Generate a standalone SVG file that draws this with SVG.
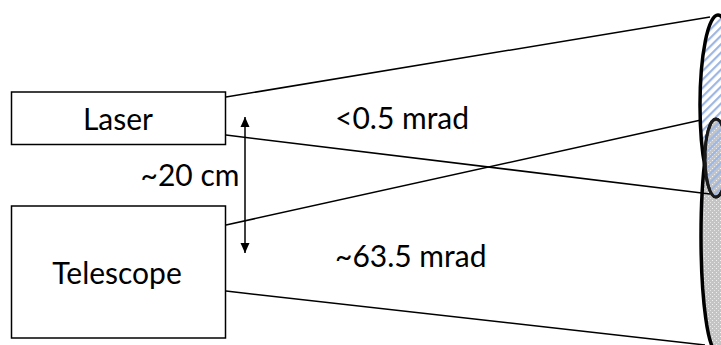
<svg xmlns="http://www.w3.org/2000/svg" width="721" height="345" viewBox="0 0 721 345">
  <style>
    .box { fill: #ffffff; stroke: #000000; stroke-width: 1.5; }
    .lbl { font-family: Lato, "Open Sans", "Liberation Sans", sans-serif; font-size: 30px; fill: #000000; }
    .ray { stroke: #000000; stroke-width: 1.5; fill: none; }
    .spot { stroke: #000000; stroke-width: 3.5; }
    .inner { stroke: #1a1a1a; stroke-width: 3; }
  </style>
  <defs>
    <pattern id="hatch" patternUnits="userSpaceOnUse" width="6" height="6" patternTransform="rotate(45)">
      <rect width="6" height="6" fill="#ffffff"/>
      <rect x="0" y="0" width="2.2" height="6" fill="#9db6e2"/>
    </pattern>
    <pattern id="hatchOnly" patternUnits="userSpaceOnUse" width="6" height="6" patternTransform="rotate(45)">
      <rect x="0" y="0" width="2.2" height="6" fill="#9db6e2"/>
    </pattern>
    <pattern id="dots" patternUnits="userSpaceOnUse" width="4" height="4">
      <rect width="4" height="4" fill="#c4c4c4"/>
      <rect x="0" y="0" width="1" height="1" fill="#f2f2f2"/>
      <rect x="2" y="2" width="1" height="1" fill="#e6e6e6"/>
    </pattern>
    <marker id="arr" viewBox="0 0 10 10" refX="10" refY="5" markerWidth="10" markerHeight="10" markerUnits="userSpaceOnUse" orient="auto-start-reverse">
      <path d="M0,0.5 L10,5 L0,9.5 Z" fill="#000000"/>
    </marker>
  </defs>

  <g id="spot">
    <ellipse id="telescope-fov" class="spot" cx="717" cy="236" rx="16" ry="116" fill="url(#dots)"/>
    <ellipse id="laser-beam" class="spot" cx="718" cy="105" rx="18" ry="90" fill="url(#hatch)"/>
    <ellipse id="overlap" class="inner" cx="716" cy="158" rx="11" ry="39" fill="url(#dots)"/>
    <ellipse class="inner" cx="716" cy="158" rx="11" ry="39" fill="url(#hatchOnly)"/>
  </g>

  <g id="connectors">
    <line class="ray" x1="226" y1="97" x2="710" y2="17"/>
    <line class="ray" x1="226" y1="135" x2="710" y2="194"/>
    <line class="ray" x1="226" y1="225" x2="701" y2="120"/>
    <line class="ray" x1="226" y1="291" x2="705" y2="345"/>
    <line class="ray" x1="245" y1="117" x2="245" y2="253" marker-start="url(#arr)" marker-end="url(#arr)"/>
  </g>

  <g id="laser">
    <rect class="box" x="11.5" y="92" width="214" height="52.5"/>
    <text class="lbl" x="118" y="130" text-anchor="middle">Laser</text>
  </g>

  <g id="telescope">
    <rect class="box" x="11.5" y="206" width="214" height="132"/>
    <text class="lbl" x="117" y="284" text-anchor="middle">Telescope</text>
  </g>

  <g id="labels">
    <text class="lbl" x="190" y="186" text-anchor="middle">~20 cm</text>
    <text class="lbl" x="335" y="129">&lt;0.5 mrad</text>
    <text class="lbl" x="335" y="267">~63.5 mrad</text>
  </g>
</svg>
